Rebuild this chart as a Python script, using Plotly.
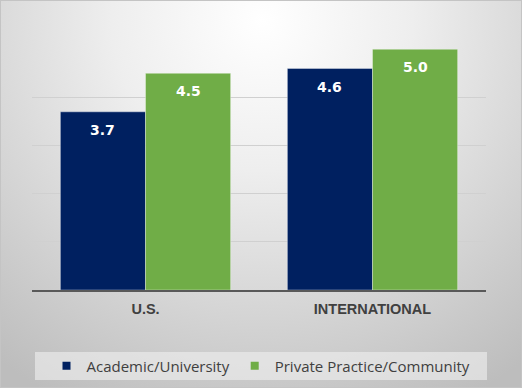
import base64
import plotly.graph_objects as go

categories = ["U.S.", "INTERNATIONAL"]
academic = [3.7, 4.6]
private = [4.5, 5.0]
series_names = ["Academic/University", "Private Practice/Community"]
colors = ["#002060", "#70AD47"]

W, H = 522, 388
L, R, T, B = 32, 36, 49, 98
pw, ph = W - L - R, H - T - B
BARGAP = 0.25

svg = f'''<svg xmlns="http://www.w3.org/2000/svg" width="{W}" height="{H}" viewBox="0 0 {W} {H}" preserveAspectRatio="none">
<defs><radialGradient id="g" gradientUnits="userSpaceOnUse" cx="262" cy="20" r="430">
<stop offset="0" stop-color="#ffffff"/><stop offset="0.35" stop-color="#eeeeee"/><stop offset="1" stop-color="#bdbdbd"/></radialGradient></defs>
<rect x="0" y="0" width="{W}" height="{H}" fill="url(#g)"/>
<rect x="0.5" y="0.5" width="{W-1}" height="{H-1}" fill="none" stroke="#c4c4c4" stroke-width="1"/>
</svg>'''
src = "data:image/svg+xml;base64," + base64.b64encode(svg.encode()).decode()


def px_x(x):
    return (x - L) / pw


def px_y(y):
    return (H - B - y) / ph


fig = go.Figure()
series = [(academic, series_names[0], colors[0]), (private, series_names[1], colors[1])]
nser = len(series)
slot = pw / len(categories) * (1 - BARGAP) / nser  # pixel width of one bar
annotations = []
for i, (vals, name, col) in enumerate(series):
    fig.add_trace(go.Bar(
        x=categories, y=vals, name=name, showlegend=False,
        marker=dict(color=col, line=dict(color="rgba(255,255,255,0.35)", width=1)),
    ))
    shift = (i - (nser - 1) / 2) * slot
    for c, v in zip(categories, vals):
        annotations.append(dict(
            x=c, y=v, xref="x", yref="y", text=f"{v:.1f}", showarrow=False,
            xshift=shift, yshift=-8, yanchor="top", xanchor="center",
            font=dict(color="white", size=14, family="DejaVu Sans", weight="bold"),
        ))
# legend entries
for name, col in zip(series_names, colors):
    fig.add_trace(go.Scatter(
        x=[None], y=[None], mode="markers", name=name,
        marker=dict(symbol="square", size=8, color=col),
    ))

fig.update_layout(
    width=W, height=H,
    margin=dict(l=L, r=R, t=T, b=B, autoexpand=False),
    paper_bgcolor="#d8d8d8",
    plot_bgcolor="rgba(0,0,0,0)",
    barmode="group", bargap=BARGAP, bargroupgap=0,
    showlegend=True,
    legend=dict(orientation="h", x=px_x(261), xanchor="center", y=px_y(366), yanchor="middle",
                bgcolor="rgba(0,0,0,0)", font=dict(family="Open Sans", size=15, color="#404040"),
                itemwidth=30, itemsizing="trace", traceorder="normal"),
    images=[dict(source=src, xref="paper", yref="paper", x=px_x(0), y=px_y(0),
                 sizex=W / pw, sizey=H / ph, sizing="stretch", layer="below",
                 xanchor="left", yanchor="top")],
    shapes=[dict(type="rect", xref="paper", yref="paper", x0=px_x(35), x1=px_x(487),
                 y0=px_y(352), y1=px_y(380), fillcolor="rgba(240,240,240,0.6)", line=dict(width=0),
                 layer="below")],
    annotations=annotations,
    xaxis=dict(showline=True, linecolor="#595959", linewidth=1.5, ticks="",
               ticklabelstandoff=5,
               tickfont=dict(family="Liberation Sans", size=14.5, color="#404040", weight="bold"),
               showgrid=False),
    yaxis=dict(range=[0, 5.005], dtick=1, showticklabels=False, showgrid=True, gridcolor="#d0d0d0",
               gridwidth=1, zeroline=False, showline=False),
)

fig.write_html("out.html", config={"displayModeBar": False},
               post_script="document.body.style.margin='0';")
